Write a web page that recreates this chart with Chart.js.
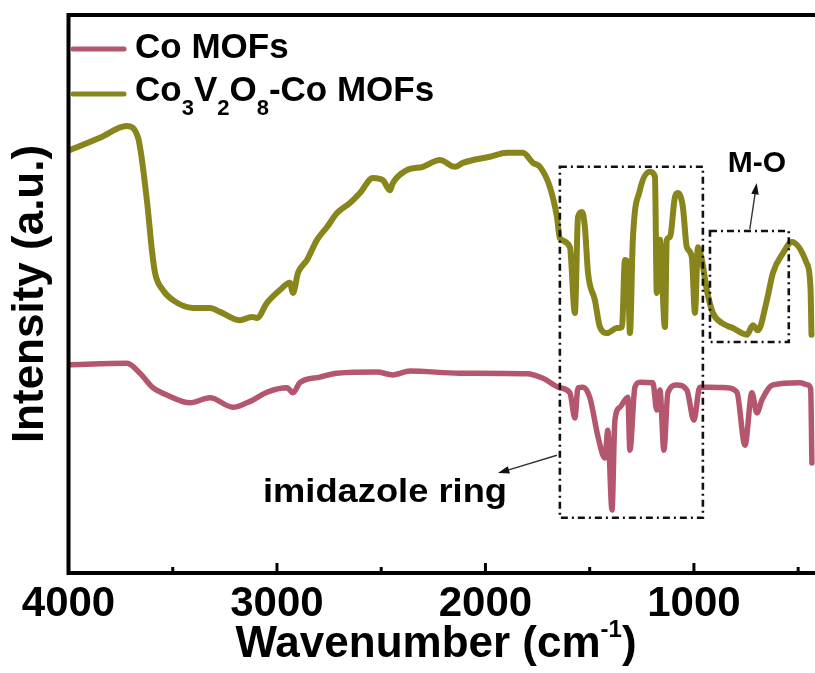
<!DOCTYPE html>
<html>
<head>
<meta charset="utf-8">
<script src="https://cdn.jsdelivr.net/npm/chart.js@4.4.1/dist/chart.umd.min.js"></script>
<style>
  html, body { margin: 0; padding: 0; background: #fff; overflow: hidden; }
  #wrap { width: 830px; height: 673px; }
</style>
</head>
<body>
<div id="wrap"><canvas id="ftir"></canvas></div>
<script>
// FTIR spectra, wavenumber (cm-1) vs. intensity (a.u.)
const coMofWn = [3993, 3850, 3719, 3657, 3595, 3528, 3417, 3321, 3211, 3144, 3115, 3048, 2952, 2923, 2890,
  2794, 2712, 2520, 2444, 2362, 2123, 1801, 1724, 1643, 1595, 1571, 1556, 1532, 1499, 1460,
  1427, 1413, 1393, 1379, 1355, 1317, 1307, 1283, 1259, 1197, 1178, 1163, 1144, 1125, 1082,
  1034, 1000, 972, 924, 842, 794, 755, 722, 698, 674, 621, 492, 453, 440, 434];
const coMofI = [37.3, 37.5, 37.6, 35.8, 33.2, 31.9, 30.5, 31.4, 29.7, 30.5, 31.0, 32.4, 33.2, 32.3, 34.1,
  35.1, 35.8, 36.0, 35.5, 36.2, 35.8, 35.7, 34.9, 33.2, 32.3, 27.8, 33.2, 33.3, 31.4, 24.4,
  20.6, 25.6, 11.3, 27.4, 29.7, 31.5, 22.0, 33.3, 34.2, 34.1, 29.2, 32.8, 22.0, 32.3, 33.7,
  32.8, 27.4, 33.3, 33.3, 33.2, 32.4, 22.9, 32.3, 28.7, 31.0, 33.7, 34.1, 33.7, 33.0, 19.7];

const cvoWn = [3993, 3849, 3721, 3667, 3624, 3600, 3585, 3547, 3499, 3403, 3321, 3273, 3177, 3120, 3096,
  3048, 2986, 2938, 2923, 2899, 2856, 2808, 2760, 2712, 2650, 2602, 2540, 2492, 2458, 2444,
  2377, 2300, 2218, 2146, 2108, 1979, 1897, 1820, 1772, 1739, 1691, 1657, 1643, 1595, 1571,
  1556, 1537, 1523, 1508, 1475, 1451, 1417, 1369, 1345, 1331, 1317, 1307, 1293, 1259, 1211,
  1187, 1178, 1163, 1139, 1130, 1115, 1091, 1077, 1053, 1034, 1010, 995, 981, 962, 938,
  909, 866, 813, 746, 717, 693, 650, 621, 573, 530, 460, 441, 436];
const cvoI = [75.8, 78.0, 80.1, 78.1, 66.8, 57.9, 53.8, 50.7, 48.9, 47.5, 47.5, 46.8, 45.3, 45.9, 45.7,
  48.4, 50.7, 52.0, 50.2, 53.8, 56.1, 59.7, 62.0, 64.5, 66.3, 68.1, 70.8, 70.4, 68.6, 69.9,
  72.2, 72.8, 74.0, 72.8, 73.5, 74.6, 75.3, 75.3, 73.5, 72.8, 69.2, 63.8, 60.0, 58.4, 46.6,
  63.8, 64.7, 62.0, 53.8, 48.9, 44.1, 43.0, 43.9, 44.1, 56.1, 55.6, 43.0, 59.7, 68.6, 71.9,
  71.0, 50.2, 59.7, 44.1, 59.7, 60.2, 67.4, 68.1, 65.6, 58.4, 56.6, 46.6, 58.4, 56.1, 50.7,
  46.6, 44.8, 43.9, 42.7, 44.4, 43.5, 48.9, 53.8, 57.3, 59.3, 55.6, 51.3, 42.7];

const seriesNames = ['Co MOFs', 'Co3V2O8-Co MOFs'];
const tickValues = [4000, 3500, 3000, 2500, 2000, 1500, 1000, 500];

const PINK = '#b4566e';
const OLIVE = '#87851b';
const FONT = '"Liberation Sans", Arial, sans-serif';

const toPoints = (wn, inten) => wn.map((w, i) => ({ x: w, y: inten[i] }));

// dash-dot rectangle around a wavenumber / intensity window
function dashBox(ctx, x, y, w0, w1, i0, i1) {
  const l = x.getPixelForValue(w0), r = x.getPixelForValue(w1);
  const t = y.getPixelForValue(i0), b = y.getPixelForValue(i1);
  ctx.save();
  ctx.strokeStyle = '#111';
  ctx.lineWidth = 2.6;
  ctx.setLineDash([7, 4, 2, 4]);
  ctx.strokeRect(l, t, r - l, b - t);
  ctx.restore();
}

function arrow(ctx, x0, y0, x1, y1) {
  const ang = Math.atan2(y1 - y0, x1 - x0);
  ctx.save();
  ctx.strokeStyle = '#333';
  ctx.fillStyle = '#111';
  ctx.lineWidth = 1.4;
  ctx.beginPath();
  ctx.moveTo(x0, y0);
  ctx.lineTo(x1 - 6 * Math.cos(ang), y1 - 6 * Math.sin(ang));
  ctx.stroke();
  ctx.beginPath();
  ctx.moveTo(x1, y1);
  ctx.lineTo(x1 - 12 * Math.cos(ang - 0.32), y1 - 12 * Math.sin(ang - 0.32));
  ctx.lineTo(x1 - 12 * Math.cos(ang + 0.32), y1 - 12 * Math.sin(ang + 0.32));
  ctx.closePath();
  ctx.fill();
  ctx.restore();
}

// text with subscripts / superscripts: parts = [[text, shift]]
function richText(ctx, parts, x, yBase, size, smallSize) {
  let cx = x;
  parts.forEach(([txt, shift]) => {
    ctx.font = 'bold ' + (shift ? smallSize : size) + 'px ' + FONT;
    ctx.fillText(txt, cx, yBase + shift);
    cx += ctx.measureText(txt).width;
  });
  return cx;
}
function richWidth(ctx, parts, size, smallSize) {
  let w = 0;
  parts.forEach(([txt, shift]) => {
    ctx.font = 'bold ' + (shift ? smallSize : size) + 'px ' + FONT;
    w += ctx.measureText(txt).width;
  });
  return w;
}

const decor = {
  id: 'decor',
  afterDraw(chart) {
    const { ctx, chartArea: a, scales: { x, y } } = chart;
    ctx.save();

    // frame
    ctx.strokeStyle = '#000';
    ctx.lineWidth = 4;
    ctx.beginPath();
    ctx.moveTo(a.right + 4, a.top);
    ctx.lineTo(a.left, a.top);
    ctx.lineTo(a.left, a.bottom);
    ctx.lineTo(a.right + 4, a.bottom);
    ctx.stroke();

    // inward ticks on the wavenumber axis
    ctx.lineWidth = 3;
    tickValues.forEach(v => {
      const px = x.getPixelForValue(v);
      const len = v % 1000 === 0 ? 10 : 6;
      ctx.beginPath();
      ctx.moveTo(px, a.bottom);
      ctx.lineTo(px, a.bottom - len);
      ctx.stroke();
    });

    // x axis title with superscript
    ctx.fillStyle = '#000';
    ctx.textBaseline = 'alphabetic';
    const titleParts = [['Wavenumber (cm', 0], ['-1', -20], [')', 0]];
    const tw = richWidth(ctx, titleParts, 44, 24);
    richText(ctx, titleParts, 436 - tw / 2, 657, 44, 24);

    // legend
    const legendRows = [
      { color: PINK, y: 49, base: 58, parts: [[seriesNames[0], 0]] },
      { color: OLIVE, y: 94, base: 101, parts: [['Co', 0], ['3', 14], ['V', 0], ['2', 14], ['O', 0], ['8', 14], ['-Co MOFs', 0]] }
    ];
    legendRows.forEach(row => {
      ctx.strokeStyle = row.color;
      ctx.lineWidth = 5;
      ctx.lineCap = 'round';
      ctx.beginPath();
      ctx.moveTo(73, row.y);
      ctx.lineTo(124, row.y);
      ctx.stroke();
      ctx.fillStyle = '#000';
      richText(ctx, row.parts, 135, row.base, 35, 22);
    });
    ctx.lineCap = 'butt';

    // band annotations
    dashBox(ctx, x, y, 1643, 957, 72.8, 9.9);
    dashBox(ctx, x, y, 923, 545, 61.3, 41.4);

    arrow(ctx, x.getPixelForValue(732), y.getPixelForValue(61.6), x.getPixelForValue(699), y.getPixelForValue(69.9));
    arrow(ctx, x.getPixelForValue(1657), y.getPixelForValue(21.1), x.getPixelForValue(1940), y.getPixelForValue(17.9));

    ctx.fillStyle = '#000';
    ctx.textAlign = 'center';
    ctx.font = 'bold 30px ' + FONT;
    ctx.fillText('M-O', x.getPixelForValue(698), y.getPixelForValue(71.9));

    // band label, set slightly wide
    ctx.save();
    ctx.translate(x.getPixelForValue(2482), y.getPixelForValue(12.7));
    ctx.scale(1.1, 1);
    ctx.font = 'bold 33px ' + FONT;
    ctx.fillText('imidazole ring', 0, 0);
    ctx.restore();

    ctx.restore();
  }
};

new Chart(document.getElementById('ftir'), {
  type: 'line',
  data: {
    datasets: [
      { label: seriesNames[0], data: toPoints(coMofWn, coMofI), borderColor: PINK, borderWidth: 5.5 },
      { label: seriesNames[1], data: toPoints(cvoWn, cvoI), borderColor: OLIVE, borderWidth: 6 }
    ]
  },
  options: {
    responsive: true,
    maintainAspectRatio: false,
    animation: false,
    layout: { padding: { top: 15, right: 11, left: 0, bottom: 0 } },
    elements: {
      point: { radius: 0 },
      line: { cubicInterpolationMode: 'monotone', borderJoinStyle: 'round', borderCapStyle: 'round' }
    },
    plugins: { legend: { display: false }, tooltip: { enabled: false } },
    scales: {
      x: {
        type: 'linear',
        reverse: true,
        min: 400,
        max: 4000,
        afterBuildTicks: s => { s.ticks = tickValues.map(v => ({ value: v })); },
        afterFit: s => { s.height = 100; },
        grid: { display: false, drawTicks: false },
        border: { display: false },
        ticks: {
          autoSkip: false,
          maxRotation: 0,
          padding: 6,
          color: '#000',
          font: { family: FONT, size: 42, weight: 'bold' },
          callback: v => (v % 1000 === 0 ? String(v) : '')
        }
      },
      y: {
        min: 0,
        max: 100,
        afterFit: s => { s.width = 68.5; },
        grid: { display: false, drawTicks: false },
        border: { display: false },
        ticks: { display: false },
        title: {
          display: true,
          text: 'Intensity (a.u.)',
          color: '#000',
          padding: { top: 4, bottom: 0 },
          font: { family: FONT, size: 44, weight: 'bold' }
        }
      }
    }
  },
  plugins: [decor]
});
</script>
</body>
</html>
